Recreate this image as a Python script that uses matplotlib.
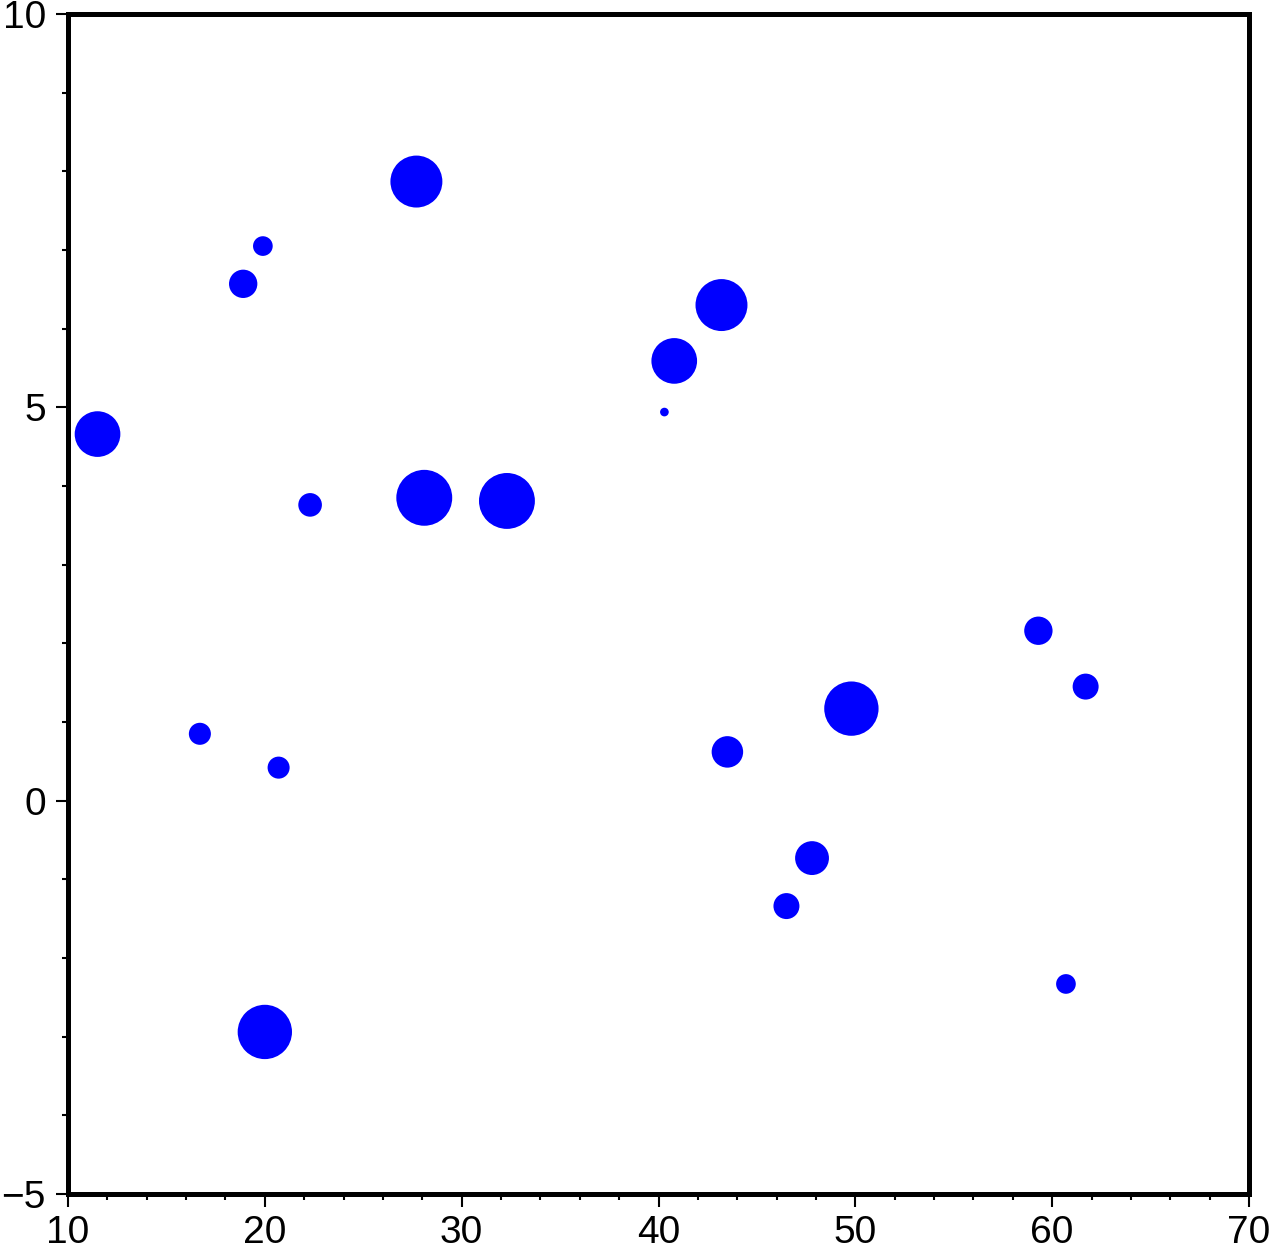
import matplotlib
matplotlib.use("Agg")
import matplotlib.pyplot as plt
from matplotlib.ticker import MultipleLocator

# point positions and symbol diameters (cm, plot is 15 cm wide)
xs = [11.5, 18.9, 19.9, 27.7, 22.3, 28.1, 32.3, 40.3, 40.8, 43.2,
      16.7, 20.7, 20.0, 43.5, 49.8, 59.3, 61.7, 47.8, 46.5, 60.7]
ys = [4.66, 6.57, 7.05, 7.87, 3.76, 3.85, 3.81, 4.94, 5.59, 6.30,
      0.85, 0.42, -2.94, 0.62, 1.17, 2.16, 1.45, -0.73, -1.34, -2.33]
sizes = [0.58, 0.36, 0.25, 0.66, 0.30, 0.71, 0.71, 0.11, 0.58, 0.66,
         0.28, 0.28, 0.69, 0.40, 0.69, 0.36, 0.33, 0.43, 0.33, 0.25]

dpi = 100
fig = plt.figure(figsize=(12.69, 12.49), dpi=dpi)
ax = fig.add_axes([68 / 1269, 1 - 1194 / 1249, 1181 / 1269, 1180 / 1249])

px_per_cm = 1181 / 15.0
s = [(d * px_per_cm * 72 / dpi) ** 2 for d in sizes]
ax.scatter(xs, ys, s=s, c="blue", edgecolors="none", zorder=3)

ax.set_xlim(10, 70)
ax.set_ylim(-5, 10)
ax.xaxis.set_major_locator(MultipleLocator(10))
ax.xaxis.set_minor_locator(MultipleLocator(2))
ax.yaxis.set_major_locator(MultipleLocator(5))
ax.yaxis.set_minor_locator(MultipleLocator(1))

for sp in ax.spines.values():
    sp.set_linewidth(3.6)
ax.tick_params(which="major", direction="out", length=9, width=1.5,
               labelsize=28)
ax.tick_params(axis="x", which="major", pad=6)
ax.tick_params(axis="y", which="major", pad=7)
ax.tick_params(which="minor", direction="out", length=4.5, width=1.5)
ax.tick_params(top=False, right=False)
for lab in ax.get_xticklabels() + ax.get_yticklabels():
    lab.set_family(["Liberation Sans", "DejaVu Sans"])

fig.savefig("out.png", dpi=dpi)
